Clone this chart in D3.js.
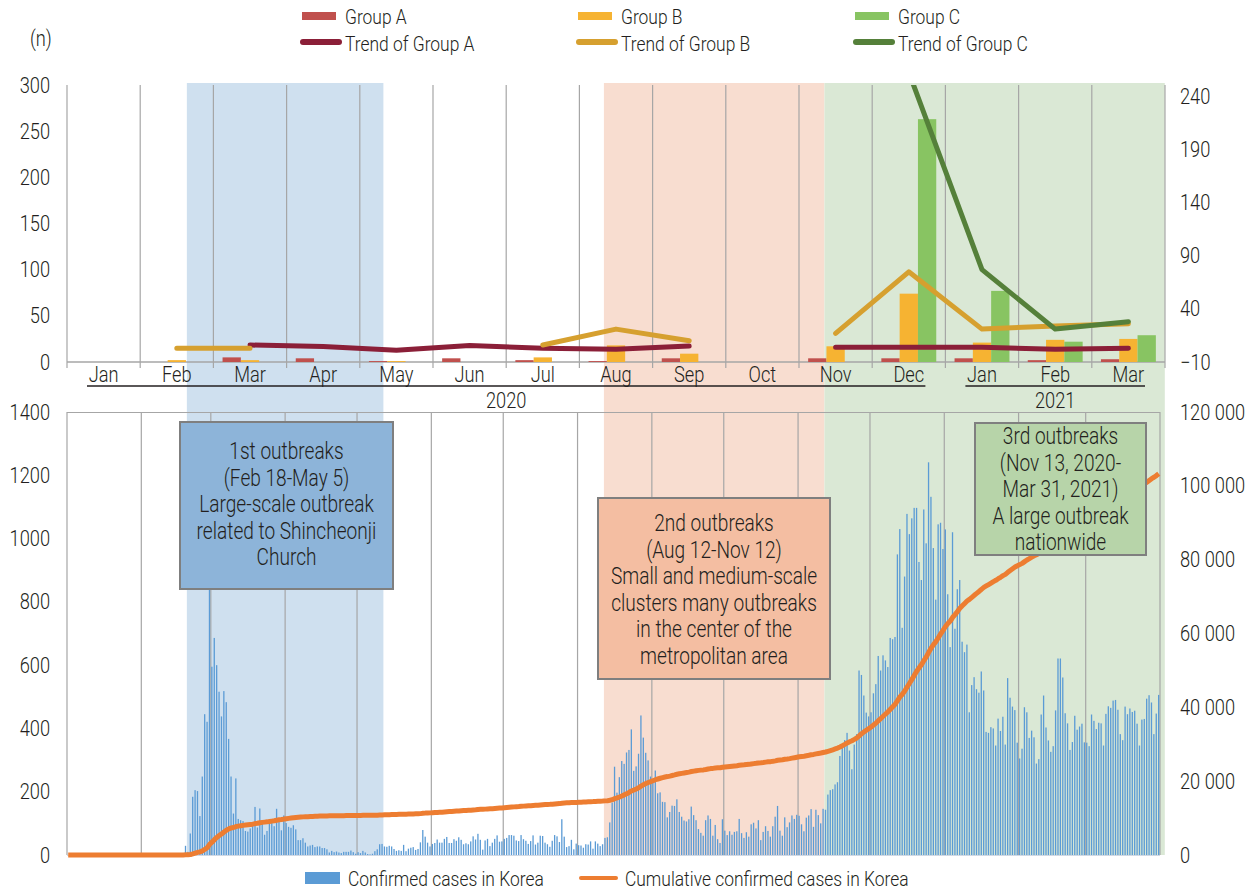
<!DOCTYPE html>
<html>
<head>
<meta charset="utf-8">
<script src="https://cdn.jsdelivr.net/npm/d3@7"></script>
<style>
  body { margin: 0; background: #fff; }
  svg text { font-family: Roboto, "DejaVu Sans Condensed", sans-serif; font-weight: 300; fill: #231f20; }
</style>
</head>
<body>
<svg id="chart" width="1255" height="891"></svg>
<script>
// ---- top panel: monthly counts per group ----
const months = ["Jan","Feb","Mar","Apr","May","Jun","Jul","Aug","Sep","Oct","Nov","Dec","Jan","Feb","Mar"];
const years = [{ label: "2020", first: 0, last: 11 }, { label: "2021", first: 12, last: 14 }];
const groupA = [0, 0, 5, 4, 1, 4, 2, 1, 4, 0, 4, 4, 4, 2, 3];
const groupB = [0, 2, 2, 0, 1, 0, 5, 18, 9, 0, 17, 74, 21, 24, 25];
const groupC = [0, 0, 0, 0, 0, 0, 0, 0, 0, 0, 0, 263, 77, 22, 29];
// trend lines are read against the right axis
const trendA = [null, null, 6, 4.5, 1, 5.5, 3, 2, 5, null, 4, 4, 4, 2, 3];
const trendB = [null, 3, 3, null, null, null, 6, 21, 10, null, 17, 75, 21, 24, 26];
const trendC = [null, null, null, null, null, null, null, null, null, null, null, 263, 77, 21, 28];
const leftTicksTop = [0, 50, 100, 150, 200, 250, 300];
const rightTicksTop = [-10, 40, 90, 140, 190, 240];

// ---- bottom panel: daily confirmed cases, Jan 1 2020 - Mar 31 2021 ----
const dailyCases = [
  // 2020 Jan
  0,0,0,0,0,0,0,0,0,0,0,0,0,0,0,0,0,0,0,1,0,0,0,1,0,1,1,0,0,2,5,
  // Feb
  1,3,0,1,3,4,0,0,3,0,1,0,0,0,0,1,1,1,29,10,68,184,205,202,123,248,445,421,909,
  // Mar
  595,686,600,516,438,518,483,367,248,131,242,114,110,107,76,74,84,93,152,87,147,98,64,76,100,104,91,146,105,78,125,
  // Apr
  101,89,86,94,81,47,47,53,39,27,30,32,25,27,27,22,22,18,8,13,9,11,8,6,10,10,10,14,9,4,
  // May
  9,6,13,8,3,2,4,12,18,34,35,27,26,29,27,19,13,15,13,32,12,20,23,25,16,19,40,79,58,39,27,
  // Jun
  35,38,49,39,39,51,57,38,38,50,45,56,48,34,37,34,43,59,49,67,48,17,46,51,28,39,51,62,42,43,
  // Jul
  51,54,63,63,61,46,44,63,50,45,35,44,62,33,39,61,60,39,34,26,45,63,59,41,113,58,25,28,48,18,36,
  // Aug
  31,30,23,34,33,43,20,43,36,28,34,54,56,103,166,279,197,246,297,288,324,332,397,266,280,320,441,371,323,299,248,
  // Sep
  235,267,195,198,168,167,119,136,156,155,176,136,121,109,106,113,153,126,110,82,70,61,110,125,114,61,95,50,38,113,
  // Oct
  77,63,75,64,73,75,114,69,54,72,58,97,102,84,110,47,73,91,76,58,91,121,155,77,61,119,88,103,125,114,127,
  // Nov
  124,97,75,118,125,145,89,143,126,100,146,143,191,205,208,223,230,313,343,363,386,330,271,349,382,583,569,504,450,438,
  // Dec
  451,511,540,629,583,631,615,594,686,682,689,950,1030,718,880,1078,1014,1064,1097,1097,926,869,1092,985,1241,1132,970,807,1045,1050,967,
  // 2021 Jan
  1029,824,657,1020,715,840,869,674,641,665,451,537,562,524,513,580,520,389,386,404,400,346,431,392,437,349,559,497,469,458,355,
  // Feb
  305,336,467,451,370,393,372,289,303,444,504,403,362,326,344,457,621,621,561,448,416,332,357,440,396,406,415,356,
  // Mar
  355,344,444,424,398,418,416,346,446,470,465,488,490,459,382,363,469,445,463,452,456,415,346,428,430,494,505,482,382,447,506
];
const leftTicksBottom = [0, 200, 400, 600, 800, 1000, 1200, 1400];
const rightTicksBottom = [0, 20000, 40000, 60000, 80000, 100000, 120000];

// outbreak periods (as shaded in the figure)
const periods = [
  { start: "2020-02-20", end: "2020-05-12", fill: "#cfe0ef" },
  { start: "2020-08-12", end: "2020-11-12", fill: "#f8ddd0" },
  { start: "2020-11-12", end: "2021-04-03", fill: "#dae8d5" }
];
const note1 = ["1st outbreaks", "(Feb 18-May 5)", "Large-scale outbreak", "related to Shincheonji", "Church"];
const note2 = ["2nd outbreaks", "(Aug 12-Nov 12)", "Small and medium-scale", "clusters many outbreaks", "in the center of the", "metropolitan area"];
const note3 = ["3rd outbreaks", "(Nov 13, 2020-", "Mar 31, 2021)", "A large outbreak", "nationwide"];

const colA = "#c0504d", colB = "#f6b332", colC = "#88c462";
const colTA = "#8b1f38", colTB = "#d6a02f", colTC = "#55803a";
const gridCol = "#a6a6a6";

const svg = d3.select("#chart");
const parse = d3.timeParse("%Y-%m-%d");
const startDate = new Date(2020, 0, 1);
const dates = dailyCases.map((_, i) => d3.timeDay.offset(startDate, i));
const cumulative = Array.from(d3.cumsum(dailyCases));

// squeeze labels horizontally about their anchor to imitate the condensed face
function squeeze(sel, k) {
  sel.each(function () {
    const x = +this.getAttribute("x") || 0;
    const t = this.getAttribute("transform") || "";
    this.setAttribute("transform", `${t} translate(${x},0) scale(${k},1) translate(${-x},0)`);
  });
}

// scales
const xMonth = d3.scaleBand().domain(d3.range(months.length)).range([67, 1165]);
const xSub = d3.scaleBand().domain(["A", "B", "C"]).range([0, xMonth.bandwidth()]).paddingOuter(0.5);
const yTop = d3.scaleLinear().domain([0, 300]).range([362, 85]);
const yTopR = d3.scaleLinear().domain([-10, 251]).range([362, 85]);

const xDay = d3.scaleTime().domain([startDate, new Date(2021, 3, 1)]).range([67, 1160]);
const yCases = d3.scaleLinear().domain([0, 1400]).range([855, 412]);
const yCum = d3.scaleLinear().domain([0, 120000]).range([855, 412]);

// shaded periods across both panels
svg.append("g").selectAll("rect").data(periods).enter().append("rect")
  .attr("x", d => xDay(parse(d.start)))
  .attr("width", d => xDay(parse(d.end)) - xDay(parse(d.start)))
  .attr("y", 83).attr("height", 855 - 83)
  .attr("fill", d => d.fill);

// ---------- top panel ----------
const topG = svg.append("g");
const edges = d3.range(months.length + 1).map(i => 67 + i * xMonth.step());
topG.selectAll(".vg").data(edges).enter().append("line")
  .attr("x1", d => d).attr("x2", d => d).attr("y1", 85).attr("y2", 368)
  .attr("stroke", gridCol).attr("stroke-width", 1.2);
topG.append("line").attr("x1", 67).attr("x2", 1165).attr("y1", 362).attr("y2", 362)
  .attr("stroke", gridCol).attr("stroke-width", 1.5);

const groups = [
  { key: "A", values: groupA, color: colA },
  { key: "B", values: groupB, color: colB },
  { key: "C", values: groupC, color: colC }
];
groups.forEach(g => {
  topG.append("g").selectAll("rect").data(g.values).enter().append("rect")
    .attr("x", (d, i) => xMonth(i) + xSub(g.key))
    .attr("width", xSub.bandwidth())
    .attr("y", d => yTop(d))
    .attr("height", d => yTop(0) - yTop(d))
    .attr("fill", g.color);
});

svg.append("clipPath").attr("id", "clipTop").append("rect")
  .attr("x", 60).attr("y", 85).attr("width", 1115).attr("height", 290);

const trendLine = d3.line()
  .defined(d => d != null)
  .x((d, i) => xMonth(i) + xMonth.bandwidth() / 2)
  .y(d => yTopR(d));
[{ v: trendA, c: colTA }, { v: trendB, c: colTB }, { v: trendC, c: colTC }].forEach(t => {
  topG.append("path").datum(t.v)
    .attr("d", trendLine)
    .attr("fill", "none").attr("stroke", t.c).attr("stroke-width", 5)
    .attr("stroke-linecap", "round").attr("stroke-linejoin", "round")
    .attr("clip-path", "url(#clipTop)");
});

// top axes
const axTopL = topG.append("g").attr("transform", "translate(67,0)")
  .call(d3.axisLeft(yTop).tickValues(leftTicksTop).tickSize(0).tickPadding(17));
const axTopR = topG.append("g").attr("transform", "translate(1165,0)")
  .call(d3.axisRight(yTopR).tickValues(rightTicksTop).tickSize(0).tickPadding(15));
const axMonth = topG.append("g").attr("transform", "translate(0,362)")
  .call(d3.axisBottom(xMonth).tickFormat(i => months[i]).tickSize(0).tickPadding(4));
[axTopL, axTopR, axMonth].forEach(a => {
  a.select(".domain").remove();
  a.selectAll("text").attr("font-size", 22).attr("fill", "#231f20");
  squeeze(a.selectAll("text"), 0.83);
});

// year brackets
years.forEach(y => {
  const x1 = xMonth(y.first) + 20, x2 = xMonth(y.last) + xMonth.bandwidth() - 20;
  topG.append("line").attr("x1", x1).attr("x2", x2).attr("y1", 386).attr("y2", 386)
    .attr("stroke", "#231f20").attr("stroke-width", 1.3);
  squeeze(topG.append("text").attr("x", (x1 + x2) / 2).attr("y", 408)
    .attr("text-anchor", "middle").attr("font-size", 22).text(y.label), 0.83);
});

squeeze(svg.append("text").attr("x", 30).attr("y", 46).attr("font-size", 22).text("(n)"), 0.83);

// ---------- bottom panel ----------
const botG = svg.append("g");
const monthStarts = d3.timeMonth.range(startDate, new Date(2021, 3, 2));
botG.selectAll(".mg").data(monthStarts).enter().append("line")
  .attr("x1", d => xDay(d)).attr("x2", d => xDay(d)).attr("y1", 412).attr("y2", 855)
  .attr("stroke", gridCol).attr("stroke-width", 1.2);
botG.append("line").attr("x1", 67).attr("x2", 1160).attr("y1", 412.5).attr("y2", 412.5)
  .attr("stroke", gridCol).attr("stroke-width", 1.2);
botG.append("line").attr("x1", 67).attr("x2", 1160).attr("y1", 855.5).attr("y2", 855.5)
  .attr("stroke", "#d0d8e4").attr("stroke-width", 1);

botG.append("g").selectAll("rect").data(dailyCases).enter().append("rect")
  .attr("x", (d, i) => xDay(dates[i]) + 0.4)
  .attr("width", 1.3)
  .attr("y", d => yCases(d))
  .attr("height", d => yCases(0) - yCases(d))
  .attr("fill", "#5b9bd5");

const cumLine = d3.line()
  .x((d, i) => xDay(dates[i]) + 1.2)
  .y(d => yCum(d));
botG.append("path").datum(cumulative)
  .attr("d", cumLine)
  .attr("fill", "none").attr("stroke", "#ed7d31").attr("stroke-width", 5)
  .attr("stroke-linejoin", "round");

const fmtSpace = v => d3.format(",")(v).replace(/,/g, " ");
const axBotL = botG.append("g").attr("transform", "translate(67,0)")
  .call(d3.axisLeft(yCases).tickValues(leftTicksBottom).tickFormat(d3.format("d")).tickSize(0).tickPadding(17));
const axBotR = botG.append("g").attr("transform", "translate(1160,0)")
  .call(d3.axisRight(yCum).tickValues(rightTicksBottom).tickFormat(fmtSpace).tickSize(0).tickPadding(20));
[axBotL, axBotR].forEach(a => {
  a.select(".domain").remove();
  a.selectAll("text").attr("font-size", 22).attr("fill", "#231f20");
  squeeze(a.selectAll("text"), 0.83);
});

// annotation boxes
function noteBox(lines, x, y, w, h, fill, lineTop) {
  const g = svg.append("g");
  g.append("rect").attr("x", x).attr("y", y).attr("width", w).attr("height", h)
    .attr("fill", fill).attr("stroke", "#7f7f7f").attr("stroke-width", 2);
  const t = g.selectAll("text").data(lines).enter().append("text")
    .attr("x", x + w / 2).attr("y", (d, i) => lineTop + i * 26.6)
    .attr("text-anchor", "middle").attr("font-size", 23).text(d => d);
  squeeze(t, 0.83);
}
noteBox(note1, 180, 422, 213, 167, "#8db4d9", 459);
noteBox(note2, 598, 498, 232, 181, "#f4bea2", 531);
noteBox(note3, 975, 423, 171, 132, "#b7d4a9", 444);

// ---------- legends ----------
const legTop = [
  { label: "Group A", color: colA, x: 302 },
  { label: "Group B", color: colB, x: 578 },
  { label: "Group C", color: colC, x: 855 }
];
const legTrend = [
  { label: "Trend of Group A", color: colTA, x: 302 },
  { label: "Trend of Group B", color: colTB, x: 578 },
  { label: "Trend of Group C", color: colTC, x: 855 }
];
const legendTexts = [];
legTop.forEach(d => {
  svg.append("rect").attr("x", d.x).attr("y", 12).attr("width", 34).attr("height", 8).attr("fill", d.color);
  legendTexts.push(svg.append("text").attr("x", d.x + 43).attr("y", 24).attr("font-size", 21).text(d.label));
});
legTrend.forEach(d => {
  svg.append("line").attr("x1", d.x + 1).attr("x2", d.x + 37).attr("y1", 42).attr("y2", 42)
    .attr("stroke", d.color).attr("stroke-width", 6).attr("stroke-linecap", "round");
  legendTexts.push(svg.append("text").attr("x", d.x + 43).attr("y", 51).attr("font-size", 21).text(d.label));
});

svg.append("rect").attr("x", 305).attr("y", 872).attr("width", 35).attr("height", 12).attr("fill", "#5b9bd5");
legendTexts.push(svg.append("text").attr("x", 348).attr("y", 886).attr("font-size", 21).text("Confirmed cases in Korea"));
svg.append("line").attr("x1", 581).attr("x2", 616).attr("y1", 878).attr("y2", 878)
  .attr("stroke", "#ed7d31").attr("stroke-width", 4).attr("stroke-linecap", "round");
legendTexts.push(svg.append("text").attr("x", 625).attr("y", 886).attr("font-size", 21).text("Cumulative confirmed cases in Korea"));
legendTexts.forEach(t => squeeze(t, 0.83));
</script>
</body>
</html>
